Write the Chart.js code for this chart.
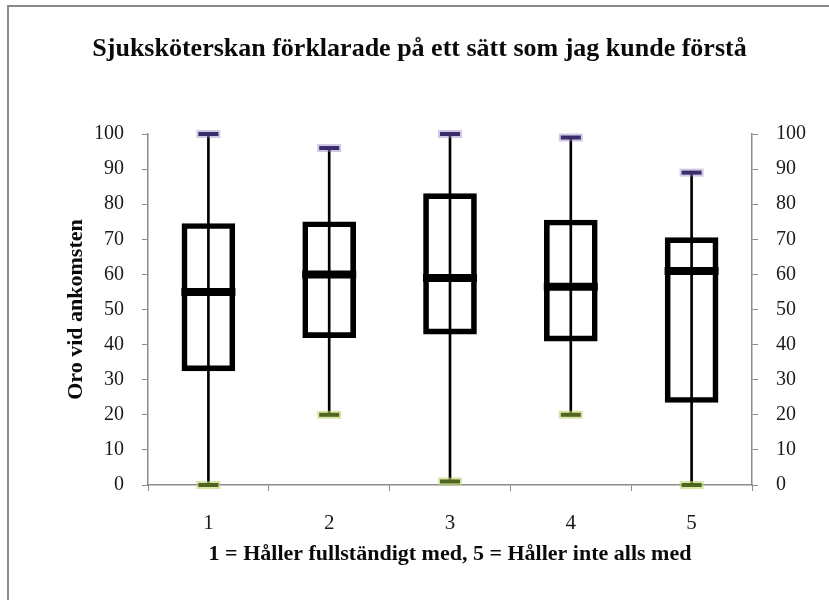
<!DOCTYPE html>
<html>
<head>
<meta charset="utf-8">
<script src="https://cdn.jsdelivr.net/npm/chart.js@4.4.0/dist/chart.umd.min.js"></script>
<style>
  html, body { margin: 0; padding: 0; background: #fff; }
  #wrap { position: relative; width: 829px; height: 600px; }
  #frame { position: absolute; left: 7px; top: 5px; right: 0; bottom: 0;
           border-left: 2px solid #8a8a8a; border-top: 2px solid #8a8a8a; }
  canvas { position: absolute; left: 0; top: 0; }
</style>
</head>
<body>
<div id="wrap">
  <div id="frame"></div>
  <canvas id="boxChart" width="829" height="600"></canvas>
</div>
<script>
  // Categories (1 = agree fully ... 5 = don't agree at all)
  const categories = ["1", "2", "3", "4", "5"];

  // Box plot values
  const minValues    = [0, 20, 1, 20, 0];
  const q1Values     = [32.5, 42, 43, 41, 23.5];
  const medianValues = [55, 60, 59, 56.5, 61];
  const q3Values     = [74.5, 75, 83, 75.5, 70.5];
  const maxValues    = [100, 96, 100, 99, 89];

  const yTicks = [0, 10, 20, 30, 40, 50, 60, 70, 80, 90, 100];

  const serif = "'Liberation Serif', 'Times New Roman', serif";

  const whiskers = categories.map((c, i) => [minValues[i], maxValues[i]]);
  const boxes = categories.map((c, i) => [q1Values[i], q3Values[i]]);

  // small dash marker, drawn as a horizontal line point
  const dash = (values, color, radius, width, order) => ({
    type: "line",
    data: values,
    showLine: false,
    clip: false,
    pointStyle: "line",
    pointRadius: radius,
    pointHoverRadius: radius,
    pointBorderWidth: width,
    borderColor: color,
    order: order,
  });

  const yAxis = (position, fit) => ({
    position: position,
    min: 0,
    max: 100,
    afterBuildTicks: (scale) => {
      scale.ticks = yTicks.map((v) => ({ value: v }));
    },
    afterFit: (scale) => { scale.width = fit; },
    border: { color: "#8c8c8c", width: 1.5 },
    grid: { drawOnChartArea: false, drawTicks: true, tickLength: 6, color: "#8c8c8c" },
    ticks: { color: "#1a1a1a", padding: 18, font: { family: serif, size: 20 } },
  });

  new Chart(document.getElementById("boxChart"), {
    type: "bar",
    data: {
      labels: categories,
      datasets: [
        dash(maxValues, "#3b2c6b", 10, 4, 0),
        dash(minValues, "#4e6620", 10, 4, 0),
        dash(maxValues, "rgba(150,135,200,0.45)", 12, 8, 1),
        dash(minValues, "rgba(190,210,110,0.6)", 12, 8, 1),
        dash(medianValues, "#000", 27, 8, 1),
        {
          // boxes
          data: boxes,
          backgroundColor: "rgba(0,0,0,0)",
          borderColor: "#000",
          borderWidth: 5,
          borderSkipped: false,
          barThickness: 53,
          grouped: false,
          order: 2,
        },
        {
          // whiskers
          data: whiskers,
          backgroundColor: "#000",
          barThickness: 2,
          grouped: false,
          order: 3,
        },
      ],
    },
    options: {
      responsive: false,
      animation: false,
      layout: { padding: { left: 10, right: 0, top: 0, bottom: 20 } },
      plugins: {
        legend: { display: false },
        tooltip: { enabled: false },
        title: {
          display: true,
          text: "Sjuksköterskan förklarade på ett sätt som jag kunde förstå",
          color: "#0a0a0a",
          font: { family: serif, size: 26, weight: "bold", lineHeight: 1 },
          padding: { top: 36, bottom: 72 },
        },
      },
      scales: {
        x: {
          offset: true,
          afterFit: (scale) => { scale.height = 95; },
          border: { color: "#8c8c8c", width: 1.5 },
          grid: { offset: true, drawOnChartArea: false, drawTicks: true, tickLength: 6, color: "#8c8c8c" },
          ticks: { color: "#1a1a1a", padding: 20, font: { family: serif, size: 21 } },
          title: {
            display: true,
            text: "1 = Håller fullständigt med, 5 = Håller inte alls med",
            color: "#0a0a0a",
            font: { family: serif, size: 22, weight: "bold", lineHeight: 1.2 },
            padding: { top: 0, bottom: 12 },
          },
        },
        y: {
          ...yAxis("left", 138),
          title: {
            display: true,
            text: "Oro vid ankomsten",
            color: "#0a0a0a",
            font: { family: serif, size: 22, weight: "bold", lineHeight: 1.2 },
            padding: { top: 53, bottom: 0 },
          },
        },
        y2: yAxis("right", 77),
      },
    },
  });
</script>
</body>
</html>
